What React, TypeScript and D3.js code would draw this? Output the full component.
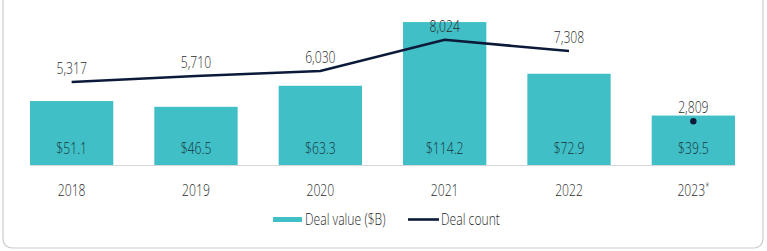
import * as d3 from "d3";
import { useEffect, useRef } from "react";

const years = ["2018", "2019", "2020", "2021", "2022", "2023*"];
const dealValue = [51.1, 46.5, 63.3, 114.2, 72.9, 39.5];
const dealCount = [5317, 5710, 6030, 8024, 7308, 2809];
// 2023 is year-to-date, so it is drawn as a lone dot, not joined to the line
const lineYears = 5;

const W = 767;
const H = 251;
const TEAL = "#40bfc6";
const NAVY = "#0c1a3a";
const FONT = "'Open Sans', sans-serif";
const SQUEEZE = 0.76; // condensed look for the labels

export default function App() {
  const svgRef = useRef<SVGSVGElement>(null);

  useEffect(() => {
    const svg = d3.select(svgRef.current);
    svg.selectAll("*").remove();

    const baseY = 165;
    const x = d3
      .scaleBand()
      .domain(years)
      .range([30, 735])
      .paddingInner(0.33)
      .paddingOuter(0);
    const yVal = d3.scaleLinear().domain([0, 120]).range([baseY, baseY - 150.2]);
    const yCnt = d3.scaleLinear().domain([0, 10000]).range([baseY, baseY - 156]);
    const cx = (i: number) => (x(years[i]) || 0) + x.bandwidth() / 2;

    const label = (
      tx: number,
      ty: number,
      s: string,
      fill = "#2b2b2b",
      anchor = "middle",
    ) => {
      const t = svg
        .append("text")
        .attr("transform", `translate(${tx},${ty}) scale(${SQUEEZE},1)`)
        .attr("text-anchor", anchor)
        .attr("font-family", FONT)
        .attr("font-weight", 300)
        .attr("font-size", 16)
        .attr("fill", fill);
      // trailing asterisk set as a small superscript
      if (s.endsWith("*")) {
        t.append("tspan").text(s.slice(0, -1));
        t.append("tspan").attr("font-size", 10).attr("dy", -6).text("*");
      } else {
        t.text(s);
      }
      return t;
    };

    // outer card
    svg
      .append("rect")
      .attr("x", 3)
      .attr("y", -20)
      .attr("width", 760)
      .attr("height", 268)
      .attr("rx", 9)
      .attr("fill", "none")
      .attr("stroke", "#cfcbc6")
      .attr("stroke-width", 1.2);

    // bars
    svg
      .selectAll(".bar")
      .data(dealValue)
      .enter()
      .append("rect")
      .attr("class", "bar")
      .attr("x", (_, i) => x(years[i]) || 0)
      .attr("y", (d) => yVal(d))
      .attr("width", x.bandwidth())
      .attr("height", (d) => baseY - yVal(d))
      .attr("fill", TEAL);

    // baseline
    svg
      .append("line")
      .attr("x1", x.range()[0])
      .attr("x2", x.range()[1])
      .attr("y1", baseY + 0.5)
      .attr("y2", baseY + 0.5)
      .attr("stroke", "#d6d6d6")
      .attr("stroke-width", 1);

    // value labels inside bars
    dealValue.forEach((d, i) => label(cx(i), 154, `$${d.toFixed(1)}`, "#163440"));

    // deal count line
    const line = d3
      .line<number>()
      .x((_, i) => cx(i))
      .y((d) => yCnt(d));
    svg
      .append("path")
      .datum(dealCount.slice(0, lineYears))
      .attr("d", line)
      .attr("fill", "none")
      .attr("stroke", NAVY)
      .attr("stroke-width", 2.6);

    svg
      .append("circle")
      .attr("cx", cx(5))
      .attr("cy", yCnt(dealCount[5]))
      .attr("r", 3.2)
      .attr("fill", NAVY);

    // count labels
    dealCount.forEach((d, i) => label(cx(i), yCnt(d) - 8, d3.format(",")(d)));

    // year labels
    years.forEach((d, i) => label(cx(i), 196, d));

    // legend
    svg.append("rect").attr("x", 273).attr("y", 217).attr("width", 29).attr("height", 5).attr("fill", TEAL);
    label(305, 225, "Deal value ($B)", "#2b2b2b", "start");
    svg
      .append("line")
      .attr("x1", 408)
      .attr("x2", 439)
      .attr("y1", 219.5)
      .attr("y2", 219.5)
      .attr("stroke", NAVY)
      .attr("stroke-width", 2.6);
    label(441, 225, "Deal count", "#2b2b2b", "start");
  }, []);

  return (
    <svg
      ref={svgRef}
      width={W}
      height={H}
      style={{ position: "absolute", left: 0, top: 0, background: "#fff" }}
    />
  );
}
